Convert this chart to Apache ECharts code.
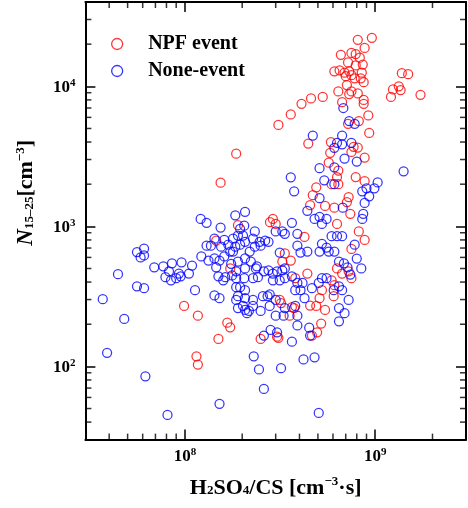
<!DOCTYPE html>
<html>
<head lang="en">
    <meta charset="UTF-8">
    <title>N15-25 vs H2SO4/CS</title>
    <style>
        html, body { margin: 0; padding: 0; background: #fff; }
        #chart { width: 468px; height: 508px; }
    </style>
</head>
<body>
<div id="chart"></div>
<script src="https://cdn.jsdelivr.net/npm/echarts@6/dist/echarts.min.js"></script>
<script>
    // NPF event days: [H2SO4/CS, N15-25]
    var npfPoints = [
        [9.6e8,22200],[8.1e8,21500],[8.8e8,18800],[6.6e8,16800],[7.5e8,17300],[7.9e8,17000],[8.3e8,16000],[7.2e8,14800],[7.9e8,14100],[8.6e8,14300],
        [6.1e8,12800],[6.5e8,13000],[6.9e8,12500],[7.3e8,12800],[7.0e8,11800],[7.5e8,12000],[7.8e8,11400],[8.5e8,12500],[8.4e8,11400],[8.7e8,10700],
        [7.1e8,10200],[1.38e9,12400],[1.49e9,12200],[1.33e9,10000],[1.24e9,9500],[1.36e9,9400],[1.21e9,8400],[1.73e9,8700],[6.4e8,9200],[7.5e8,9200],
        [7.3e8,8800],[8.1e8,8900],[8.7e8,8000],[8.7e8,7500],[6.7e8,7700],[5.3e8,8400],[4.6e8,8200],[4.1e8,7500],[3.6e8,6300],[3.1e8,5300],
        [9.2e8,6200],[7.2e8,5400],[8.2e8,5650],[9.3e8,4650],[4.45e8,3900],[5.85e8,4000],[5.8e8,3350],[7.5e8,3400],[7.7e8,3700],[8.1e8,3650],
        [8.8e8,3100],[5.7e8,2850],[6.4e8,2500],[6.3e8,2250],[6.4e8,2000],[5.9e8,2000],[7.9e8,2250],[8.8e8,2100],[4.9e8,1900],[4.7e8,1670],
        [4.55e8,1420],[7.25e8,1620],[7.1e8,1490],[5.45e8,1400],[6.1e8,1360],[7.4e8,1230],[2.9e8,1130],[2.8e8,1070],[3.0e8,1040],[6.3e8,1040],
        [1.86e8,3300],[1.54e8,2050],[1.9e8,1020],[1.46e8,790],[1.73e8,500],[9.9e7,270],[1.17e8,230],[1.67e8,205],[1.73e8,190],[1.5e8,157],
        [1.15e8,118],[1.17e8,103],[2.5e8,157],[3.1e8,160],[4.25e8,840],[8.2e8,920],[8.8e8,800],[7.5e8,690],[3.35e8,640],[3.6e8,570],
        [3.25e8,560],[4.4e8,460],[3.8e8,426],[6.3e8,500],[6.7e8,460],[7.25e8,477],[7.5e8,426],[5.9e8,412],[6.1e8,380],[5.25e8,350],
        [5.1e8,307],[6.05e8,317],[4.55e8,272],[4.9e8,270],[5.45e8,253],[3.75e8,261],[3.15e8,298],[3.55e8,230],[5.2e8,202],[4.95e8,175],
        [3.05e8,163],[4.65e8,166],[3.65e8,265],[3.2e8,283]
    ];
    // non-event days
    var nonePoints = [
        [6.8e8,7000],[7.3e8,5650],[7.8e8,5400],[4.7e8,4450],[6.7e8,4450],[6.3e8,3950],[6.7e8,3850],[7.5e8,3950],[6.1e8,3640],[6.9e8,3050],
        [8.0e8,2900],[5.1e8,2600],[6.1e8,2640],[1.41e9,2470],[3.6e8,2240],[5.4e8,2130],[6.1e8,2000],[3.75e8,1780],[1.03e9,2060],[9.0e8,1870],
        [8.55e8,1780],[9.9e8,1870],[9.3e8,1640],[5.1e8,1590],[8.8e8,1470],[6.75e8,1360],[4.4e8,1290],[8.65e8,1230],[8.55e8,1130],[4.8e8,1130],
        [5.1e8,1170],[5.55e8,1130],[5.25e8,1040],[3.65e8,1060],[2.07e8,1270],
        [1.21e8,1130],[1.3e8,1060],[1.54e8,980],[1.84e8,1200],[1.43e8,816],[1.61e8,800],[1.3e8,728],[1.37e8,728],[1.55e8,716],[1.73e8,660],
        [1.9e8,860],[1.95e8,960],[2.07e8,775],[1.22e8,610],[1.33e8,570],[1.43e8,590],[1.52e8,570],[1.61e8,610],[1.46e8,510],[1.75e8,540],
        [1.9e8,560],[2.07e8,590],[1.86e8,477],[2.07e8,500],[1.5e8,440],[1.63e8,433],[1.59e8,412],[1.86e8,426],[2.05e8,426],[1.86e8,368],
        [1.95e8,368],[2.07e8,350],[1.9e8,317],[1.86e8,298],[2.07e8,307],[1.9e8,261],[2.07e8,253],[2.12e8,240],[1.43e8,321],[1.52e8,307],
        [1.13e8,350],[5.6e7,655],[6.1e7,693],[5.85e7,600],[6.1e7,620],[4.45e7,455],[3.7e7,302],[4.8e7,218],[5.6e7,373],[6.1e7,362],
        [6.9e7,510],[7.7e7,518],[8.55e7,545],[9.6e7,554],[8.25e7,477],[7.9e7,433],[8.45e7,412],[9.0e7,426],[9.5e7,440],[9.3e7,460],
        [1.05e8,460],[1.09e8,525],[3.9e7,125],[6.2e7,85],[8.1e7,45],[1.52e8,54],
        [1.69e8,740],[1.79e8,816],[2.02e8,860],[2.28e8,816],[2.47e8,775],[2.64e8,790],[2.33e8,716],[2.5e8,728],[1.95e8,740],[1.84e8,716],
        [1.79e8,660],[2.19e8,660],[2.22e8,560],[2.39e8,518],[2.6e8,477],[1.77e8,446],[2.28e8,426],[2.42e8,433],[2.75e8,485],[2.02e8,270],
        [2.28e8,298],[2.28e8,270],[2.17e8,249],[2.57e8,317],[2.72e8,317],[2.79e8,270],[2.5e8,249],[2.82e8,182],
        [2.05e8,1010],[2.33e8,920],[2.75e8,775],[3.0e8,920],[3.25e8,920],[3.35e8,885],[3.9e8,885],[3.9e8,728],[3.15e8,650],[4.05e8,650],
        [4.4e8,660],[5.1e8,660],[5.55e8,705],[5.7e8,660],[5.9e8,850],[6.3e8,850],[6.7e8,850],[5.25e8,750],[6.1e8,660],[7.8e8,740],
        [8.0e8,589],[8.45e8,500],[6.45e8,560],[6.85e8,545],[7.15e8,510],[7.4e8,453],[5.55e8,426],[5.25e8,426],[5.05e8,394],[6.45e8,373],
        [6.05e8,350],[6.7e8,350],[2.36e8,501],[2.9e8,460],[3.05e8,477],[3.25e8,485],[3.35e8,501],[2.9e8,412],[3.15e8,412],[3.35e8,426],
        [3.65e8,440],[3.9e8,394],[4.15e8,394],[4.05e8,350],[3.8e8,350],[4.25e8,307],[4.65e8,362],[2.79e8,327],[3.0e8,298],[3.35e8,261],
        [3.3e8,230],[3.0e8,230],[3.8e8,270],[3.9e8,230],[3.9e8,196],[6.45e8,261],[7.25e8,298],[6.9e8,240],[6.45e8,210],[3.05e8,175],
        [4.5e8,189],[4.55e8,166],[3.65e8,150],[2.6e8,166],[2.3e8,118],[2.45e8,95],[3.2e8,97],[2.6e8,69],[4.2e8,112],[4.8e8,116],[5.05e8,46.5]
    ];
    var seriesNames = ['NPF event', 'None-event'];
    var xRange = [3e7, 3e9];
    var yRange = [30, 4e4];
    // minor ticks (2..9 x each decade), log axis minorTick is evenly spaced so draw them ourselves
    var xMinorTicks = [4e7,5e7,6e7,7e7,8e7,9e7,2e8,3e8,4e8,5e8,6e8,7e8,8e8,9e8,2e9];
    var yMinorTicks = [40,50,60,70,80,90,200,300,400,500,600,700,800,900,2000,3000,4000,5000,6000,7000,8000,9000,2e4,3e4];

    var serif = '"Liberation Serif", "Times New Roman", serif';
    var red = '#ff0000', blue = '#0000ff';

    var myChart = echarts.init(document.getElementById('chart'));

    function powLabel(v) {
        var e = Math.round(Math.log(v) / Math.LN10);
        return '{b|10}{s|' + e + '}';
    }
    var labelRich = {
        b: {fontFamily: serif, fontWeight: 'bold', fontSize: 17, lineHeight: 17, color: '#000', padding: [3, 0, 0, 0]},
        s: {fontFamily: serif, fontWeight: 'bold', fontSize: 11, lineHeight: 11, color: '#000', verticalAlign: 'top'}
    };
    var nameRich = {
        b: {fontFamily: serif, fontWeight: 'bold', fontSize: 22, lineHeight: 22, color: '#000', padding: [7, 0, 4, 0]},
        i: {fontFamily: serif, fontWeight: 'bold', fontStyle: 'italic', fontSize: 23, lineHeight: 22, color: '#000', padding: [7, 0, 4, 0]},
        sub: {fontFamily: serif, fontWeight: 'bold', fontSize: 13, lineHeight: 13, color: '#000', verticalAlign: 'bottom'},
        sup: {fontFamily: serif, fontWeight: 'bold', fontSize: 13, lineHeight: 13, color: '#000', verticalAlign: 'top'}
    };

    function axisBase(pos, range) {
        return {
            type: 'log',
            logBase: 10,
            position: pos,
            min: range[0],
            max: range[1],
            axisLine: {show: true, onZero: false, lineStyle: {color: '#000', width: 2}},
            axisTick: {show: true, inside: true, length: 10, lineStyle: {color: '#000', width: 1.5}},
            splitLine: {show: false},
            minorTick: {show: false},
            axisLabel: {show: false}
        };
    }

    var xMain = axisBase('bottom', xRange);
    xMain.axisLabel = {show: true, margin: 7, formatter: powLabel, rich: labelRich, showMinLabel: false, showMaxLabel: false};
    xMain.name = '{b|H}{sub|2}{b|SO}{sub|4}{b|/CS [cm}{sup|−3}{b|·s]}';
    xMain.nameLocation = 'middle';
    xMain.nameGap = 27;
    xMain.nameTextStyle = {rich: nameRich};

    var yMain = axisBase('left', yRange);
    yMain.axisLabel = {show: true, margin: 10, formatter: powLabel, rich: labelRich, showMinLabel: false, showMaxLabel: false};
    yMain.name = '{i|N}{sub|15–25}{b|[cm}{sup|−3}{b|]}';
    yMain.nameLocation = 'middle';
    yMain.nameGap = 48;
    yMain.nameTextStyle = {rich: nameRich, padding: [0, 0, 0, 56]};

    function tickPoints(vals, fixed, isX) {
        return vals.map(function (v) { return isX ? [v, fixed] : [fixed, v]; });
    }
    function tickSeries(points, size, offset) {
        return {
            type: 'scatter',
            silent: true,
            clip: false,
            symbol: 'rect',
            symbolSize: size,
            symbolOffset: offset,
            itemStyle: {color: '#000'},
            data: points,
            z: 5
        };
    }
    function pointSeries(name, pts, color) {
        return {
            name: name,
            type: 'scatter',
            symbol: 'circle',
            symbolSize: 9,
            itemStyle: {color: 'rgba(0,0,0,0)', borderColor: color, borderWidth: 1.25},
            data: pts
        };
    }

    var option = {
        animation: false,
        backgroundColor: '#fff',
        grid: {left: 80, right: 2, top: 2, bottom: 65},
        legend: {
            data: [
                {name: seriesNames[0], itemStyle: {color: 'rgba(0,0,0,0)', borderColor: red, borderWidth: 1.3}},
                {name: seriesNames[1], itemStyle: {color: 'rgba(0,0,0,0)', borderColor: blue, borderWidth: 1.3}}
            ],
            icon: 'circle',
            orient: 'vertical',
            left: 106,
            top: 29,
            itemWidth: 52,
            itemHeight: 11,
            itemGap: 7,
            textStyle: {fontFamily: serif, fontWeight: 'bold', fontSize: 20, color: '#000'}
        },
        xAxis: [xMain, axisBase('top', xRange)],
        yAxis: [yMain, axisBase('right', yRange)],
        series: [
            pointSeries(seriesNames[0], npfPoints, red),
            pointSeries(seriesNames[1], nonePoints, blue),
            tickSeries(tickPoints(xMinorTicks, yRange[0], true), [1.5, 6], [0, -3]),
            tickSeries(tickPoints(xMinorTicks, yRange[1], true), [1.5, 6], [0, 3]),
            tickSeries(tickPoints(yMinorTicks, xRange[0], false), [6, 1.5], [3, 0]),
            tickSeries(tickPoints(yMinorTicks, xRange[1], false), [6, 1.5], [-3, 0])
        ]
    };
    myChart.setOption(option);
</script>
</body>
</html>
